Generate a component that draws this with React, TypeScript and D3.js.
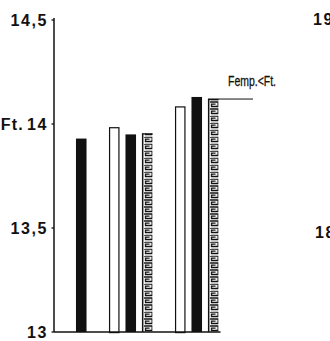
import React from "react";
import * as d3 from "d3";

const yTickValues = [13, 13.5, 14, 14.5];
const yTickLabels = ["13", "13,5", "14", "14,5"];
const slotCount = 9;
const barSlots = [0, 2, 3, 4, 6, 7, 8];
const barKinds = ["black", "white", "black", "hatch", "white", "black", "hatch"];
const barValues = [13.93, 13.985, 13.95, 13.955, 14.085, 14.13, 14.12];
const ftValue = 14.12;
const ftLabel = "Femp.<Ft.";
const yPrefix = "Ft.";
const sideLabels = ["19", "18"];

export default function App() {
  const W = 330, H = 341;
  const y = d3.scaleLinear().domain([13, 14.5]).range([332, 20]);
  const x = d3
    .scaleBand<number>()
    .domain(d3.range(slotCount))
    .range([73, 221.5])
    .paddingInner(0.36)
    .paddingOuter(0.18);
  const axisX = 54;
  const bw = x.bandwidth();
  const font = "'Liberation Sans', Arial, sans-serif";
  const hatchIdx = barKinds.map((k, i) => (k === "hatch" ? i : -1)).filter((i) => i >= 0);
  const lastHatch = hatchIdx[hatchIdx.length - 1];

  return (
    <svg width={W} height={H} style={{ position: "absolute", left: 0, top: 0, background: "#fff" }}>
      <defs>
        {hatchIdx.map((i) => (
          <pattern
            key={i}
            id={`hatch${i}`}
            patternUnits="userSpaceOnUse"
            x={x(barSlots[i])!}
            y={y(13)}
            width={bw + 2}
            height={7}
          >
            <path
              d={`M2,1 H${bw - 0.5} V5.5 H3.5 V3.2 H${bw - 3}`}
              fill="none"
              stroke="#111"
              strokeWidth={1.3}
            />
          </pattern>
        ))}
      </defs>

      {/* bars */}
      {barValues.map((v, i) => {
        const bx = x(barSlots[i])!;
        const top = y(v);
        const h = y(13) - top;
        const kind = barKinds[i];
        if (kind === "black") {
          return <rect key={i} x={bx} y={top} width={bw} height={h} fill="#111" />;
        }
        if (kind === "white") {
          return (
            <rect key={i} x={bx + 0.6} y={top + 0.6} width={bw - 1.2} height={h} fill="#fff" stroke="#111" strokeWidth={1.2} />
          );
        }
        return (
          <g key={i}>
            <rect x={bx} y={top} width={bw} height={h} fill={`url(#hatch${i})`} />
            <line x1={bx + 0.7} x2={bx + 0.7} y1={top} y2={y(13)} stroke="#111" strokeWidth={1.5} />
            <line x1={bx} x2={bx + bw} y1={top + 0.5} y2={top + 0.5} stroke="#111" strokeWidth={1.2} />
          </g>
        );
      })}

      {/* axes */}
      <line x1={axisX} x2={axisX} y1={y(14.5) - 2} y2={y(13)} stroke="#111" strokeWidth={1.5} />
      <line x1={axisX} x2={x(slotCount - 1)! + bw + 2} y1={y(13)} y2={y(13)} stroke="#111" strokeWidth={1.5} />
      {yTickValues.map((t, i) => (
        <g key={t}>
          <line x1={axisX - 2.5} x2={axisX} y1={y(t)} y2={y(t)} stroke="#111" strokeWidth={1.3} />
          <text
            x={48}
            y={y(t)}
            dy="0.36em"
            textAnchor="end"
            fontFamily={font}
            fontWeight="bold"
            fontSize={16}
            letterSpacing={1.6}
            fill="#111"
          >
            {yTickLabels[i]}
          </text>
        </g>
      ))}
      <text x={24} y={y(14)} dy="0.36em" textAnchor="end" fontFamily={font} fontWeight="bold" fontSize={16} letterSpacing={1.2} fill="#111">
        {yPrefix}
      </text>

      {/* Femp < Ft annotation */}
      <line
        x1={x(barSlots[lastHatch])!}
        x2={253}
        y1={y(ftValue)}
        y2={y(ftValue)}
        stroke="#111"
        strokeWidth={1}
      />
      <text
        x={228}
        y={86}
        fontFamily={font}
        fontSize={15}
        textLength={48}
        lengthAdjust="spacingAndGlyphs"
        fill="#111"
        stroke="#111"
        strokeWidth={0.3}
      >
        {ftLabel}
      </text>

      {/* neighbouring chart labels cut by the edge */}
      <text x={313} y={25} fontFamily={font} fontWeight="bold" fontSize={16} letterSpacing={1.6} fill="#111">
        {sideLabels[0]}
      </text>
      <text x={315} y={238} fontFamily={font} fontWeight="bold" fontSize={16} letterSpacing={1.6} fill="#111">
        {sideLabels[1]}
      </text>
    </svg>
  );
}
